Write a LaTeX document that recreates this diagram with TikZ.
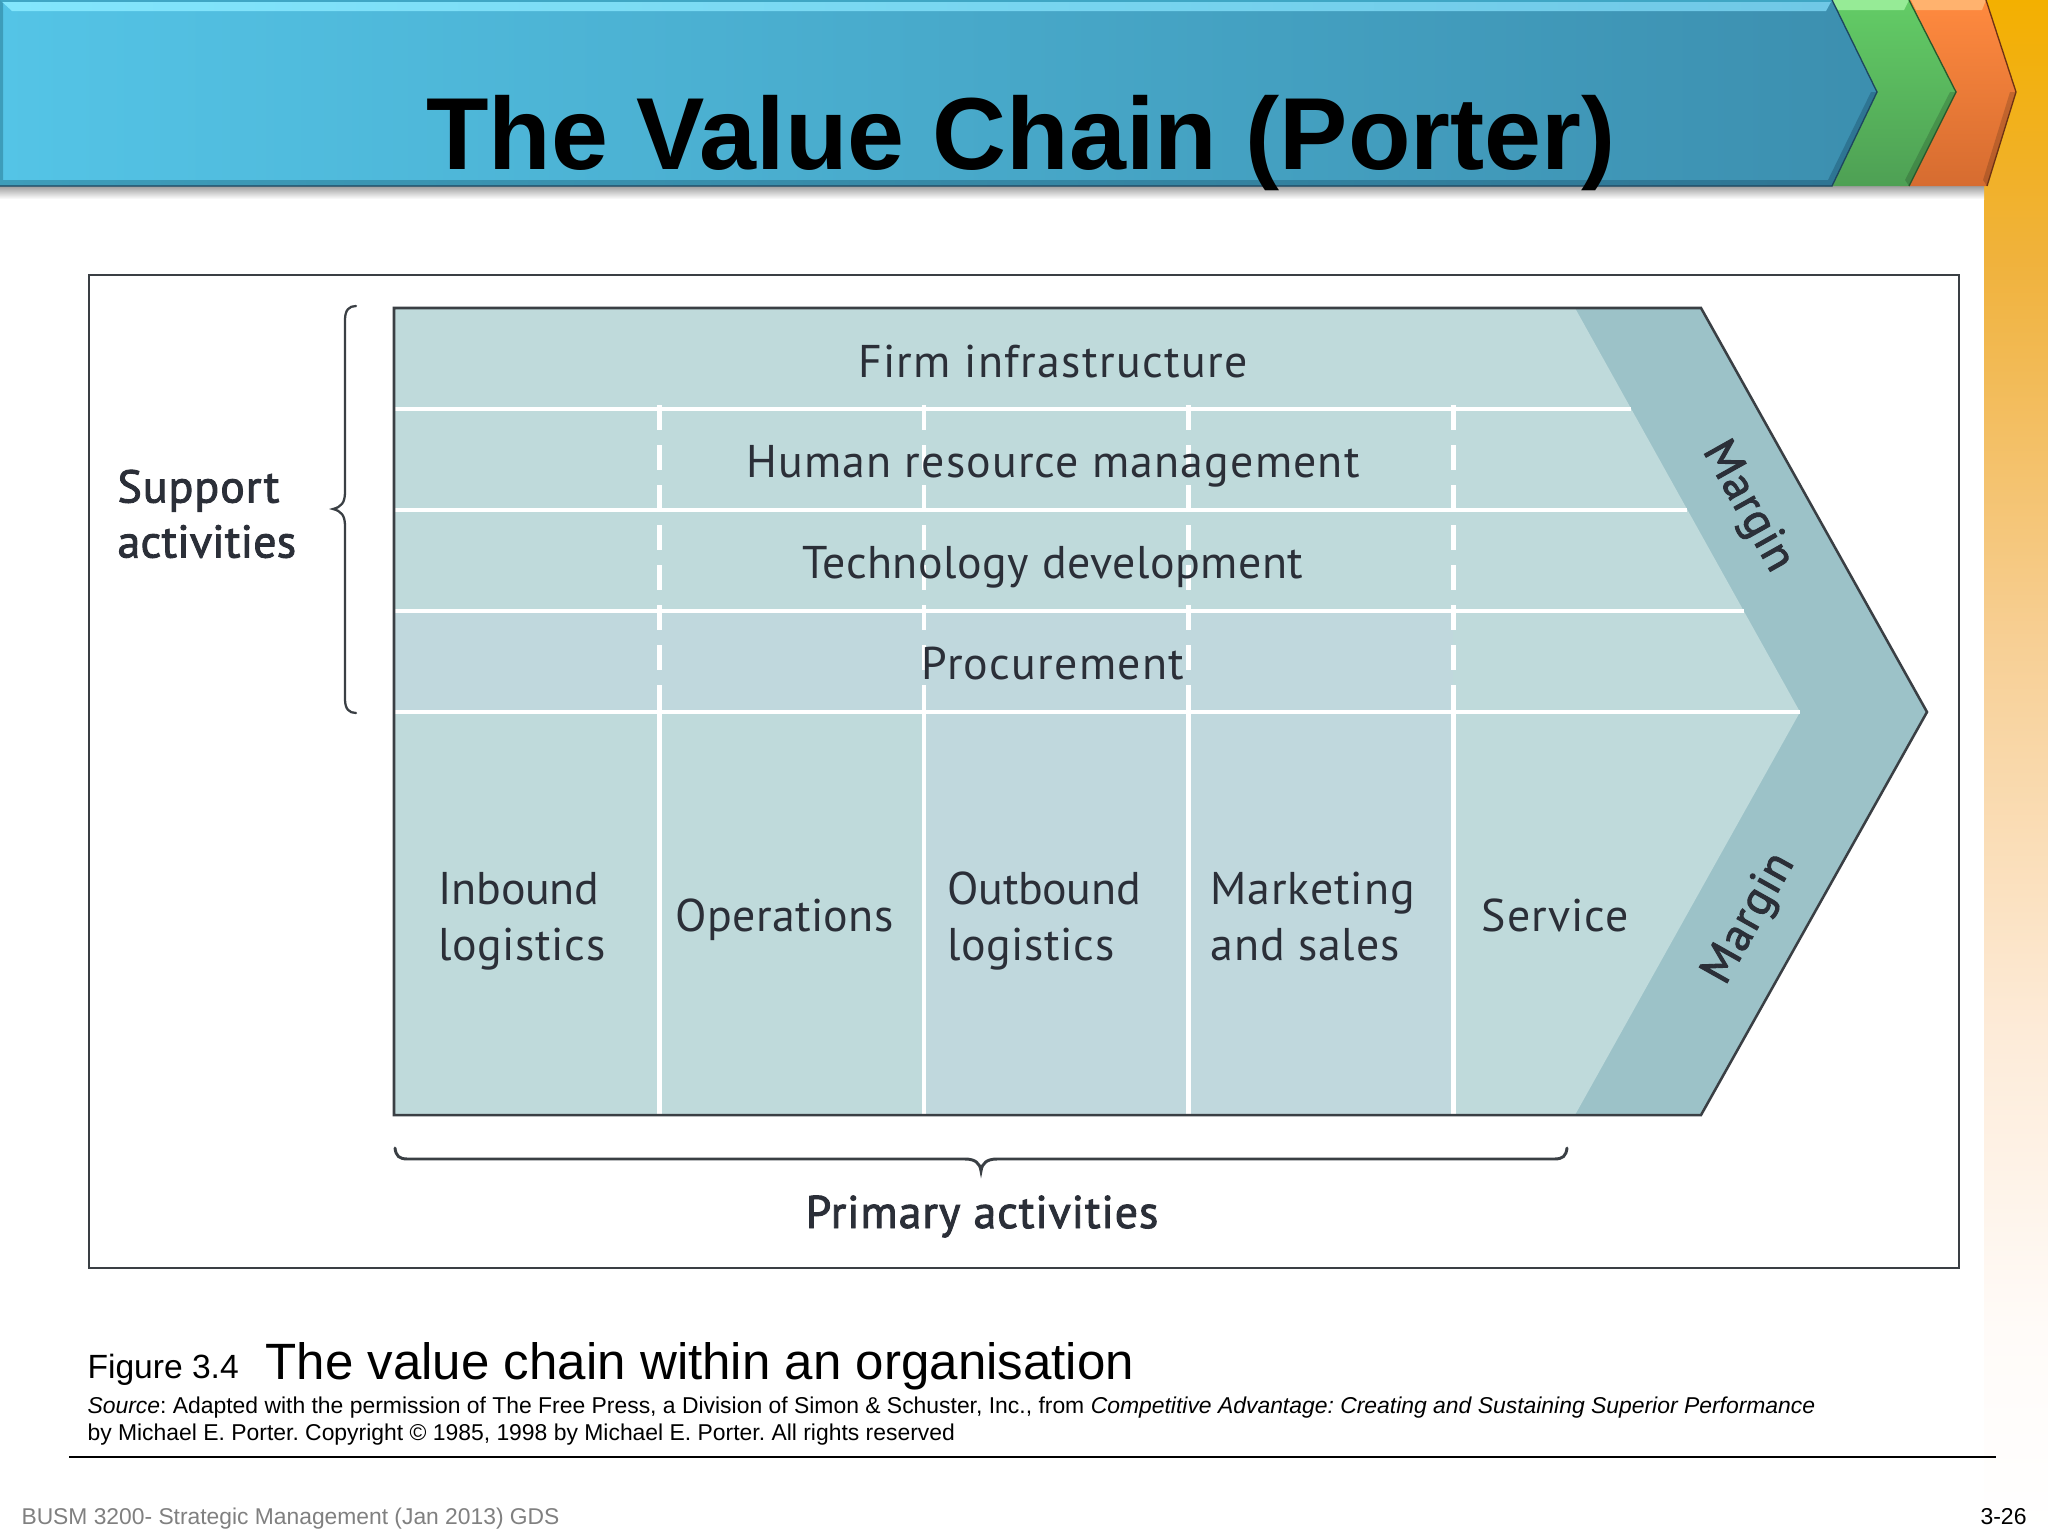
\documentclass[tikz,border=0pt]{standalone}
\usepackage{fontspec}
\setmainfont{Liberation Sans}
\newfontfamily\din[LetterSpace=2.5]{PT Sans}
\newfontfamily\dinb[LetterSpace=2.2,FakeBold=2.0]{PT Sans}
\newcommand{\ls}[1]{\addfontfeature{LetterSpace=#1}}
\usetikzlibrary{calc}
\definecolor{paleA}{HTML}{BFDADB}
\definecolor{paleB}{HTML}{C0D8DD}
\definecolor{marginc}{HTML}{9CC2C8}
\definecolor{inkc}{HTML}{2B2F38}
\definecolor{edgec}{HTML}{3A3F44}
\definecolor{bandA}{HTML}{F3B000}
\definecolor{bandB}{HTML}{F0B23C}
\definecolor{bandC}{HTML}{F7CF94}
\definecolor{bandD}{HTML}{FDEBD8}
\definecolor{bandE}{HTML}{FFFBF8}
\definecolor{orT}{HTML}{FF8A3F}
\definecolor{orB}{HTML}{D66C30}
\definecolor{orH}{HTML}{FFB26E}
\definecolor{orE}{HTML}{6E3214}
\definecolor{grT}{HTML}{63CC66}
\definecolor{grB}{HTML}{4EA054}
\definecolor{grH}{HTML}{96EB96}
\definecolor{grE}{HTML}{285A2D}
\definecolor{blL}{HTML}{54C4E6}
\definecolor{blR}{HTML}{3C8FAF}
\definecolor{blHL}{HTML}{82E6FC}
\definecolor{blHR}{HTML}{70C8E6}
\definecolor{blTE}{HTML}{3FA6C4}
\definecolor{blDL}{HTML}{3D9DBA}
\definecolor{blDR}{HTML}{2E7593}
\definecolor{blE}{HTML}{1E465F}
\definecolor{footc}{HTML}{808080}
\tikzset{
  lab/.style={inner sep=0pt,text=inkc,font=\din\fontsize{17.2}{21}\selectfont},
  labb/.style={inner sep=0pt,text=inkc,font=\dinb\fontsize{17.2}{21}\selectfont},
  whiteline/.style={white,line width=1.85pt},
  whitedash/.style={white,line width=1.7pt,dash pattern=on 9.375pt off 5.625pt},
  capt/.style={inner sep=0pt,anchor=base west,text=black},
  bracec/.style={edgec,line width=0.85pt}
}
\begin{document}
\frenchspacing
\begin{tikzpicture}[x=0.375pt,y=-0.375pt]
\useasboundingbox (0,0) rectangle (2048,1536);
\fill[white] (0,0) rectangle (2048,1536);
% right band
\shade[top color=bandA,bottom color=bandB] (1984,0) rectangle (2048,260);
\shade[top color=bandB,bottom color=bandC] (1984,260) rectangle (2048,640);
\shade[top color=bandC,bottom color=bandD] (1984,640) rectangle (2048,1030);
\shade[top color=bandD,bottom color=bandE] (1984,1030) rectangle (2048,1330);
\shade[top color=bandE,bottom color=white] (1984,1330) rectangle (2048,1536);
% header shadow
\shade[top color=black!38,bottom color=white] (0,186) rectangle (1984,199);
% orange chevron
\shade[top color=orT,bottom color=orB]
  (1900,0) -- (1986,0) -- (2016,92) -- (1987,186) -- (1900,186) -- cycle;
\fill[orH] (1911,0) -- (1986,0) -- (1982,10) -- (1916,10) -- cycle;
\fill[black,opacity=0.16] (2010,92) -- (2016,92) -- (1987,186) -- (1983,180) -- cycle;
\draw[orE,line width=0.5pt] (1986,0) -- (2016,92) -- (1987,186);
% green chevron
\shade[top color=grT,bottom color=grB]
  (1825,0) -- (1909,0) -- (1956,92) -- (1909,186) -- (1825,186) -- cycle;
\fill[grH] (1832,0) -- (1909,0) -- (1904,10) -- (1838,10) -- cycle;
\fill[black,opacity=0.16] (1950,92) -- (1956,92) -- (1909,186) -- (1905,180) -- cycle;
\draw[grE,line width=0.5pt] (1909,0) -- (1956,92) -- (1909,186);
% blue chevron
\shade[left color=blL,right color=blR]
  (0,0) -- (1832,0) -- (1877,92) -- (1832,186) -- (0,186) -- cycle;
\shade[left color=blHL,right color=blHR]
  (0,0) -- (1832,0) -- (1826,11) -- (12,11) -- cycle;
\fill[blTE] (0,0) rectangle (1832,1.5);
\shade[left color=blDL,right color=blDR]
  (0,180) -- (1835,180) -- (1832,186) -- (0,186) -- cycle;
\fill[blDL] (0,0) -- (3,3) -- (3,184) -- (0,186) -- cycle;
\fill[blDR] (1871,92) -- (1877,92) -- (1832,186) -- (1828,180) -- cycle;
\draw[blE,line width=0.5pt] (1832,0) -- (1877,92) -- (1832,186) -- (0,186);
\node[inner sep=0pt,anchor=base,font=\bfseries\fontsize{38.4}{44}\selectfont,text=black] (title) at (1021,169) {The Value Chain (Porter)};
% frame
\draw[edgec,line width=0.75pt] (88.5,275) rectangle (1959,1267.5);
% chain body
\fill[marginc] (394,308) -- (1701,308) -- (1927,712) -- (1701,1115) -- (394,1115) -- cycle;
\fill[paleA] (394,308) -- (1575,308) -- (1800,712) -- (1575,1115) -- (394,1115) -- cycle;
\fill[paleB] (394,611) rectangle (1453,712);
\fill[paleB] (924,712) rectangle (1453,1115);
\foreach \yy/\xx in {409/1631,510/1687,611/1744,712/1800}
  \draw[whiteline] (394,\yy) -- (\xx,\yy);
\foreach \xx in {659.5,924,1188.5,1453.5}{
  \draw[whitedash] (\xx,405) -- (\xx,712);
  \draw[whiteline] (\xx,712) -- (\xx,1115);
}
\draw[edgec,line width=0.95pt,line join=miter] (394,308) -- (1701,308) -- (1927,712) -- (1701,1115) -- (394,1115) -- cycle;
% braces
\draw[bracec,line cap=round] (356,306) .. controls (349,306) and (345,310) .. (345,320) -- (345,492) .. controls (345,503) and (341,507) .. (333,509) .. controls (341,511) and (345,515) .. (345,526) -- (345,699) .. controls (345,709) and (349,713) .. (356,713);
\draw[bracec,line width=1.1pt,line cap=round] (395,1148) .. controls (396,1156) and (399,1159) .. (408,1159) -- (965,1159) .. controls (975,1159) and (980,1163) .. (981,1171) .. controls (982,1163) and (987,1159) .. (997,1159) -- (1554,1159) .. controls (1563,1159) and (1566,1156) .. (1567,1148);
% support rows
\node[lab,anchor=base] (firm) at (1053,377.5) {\ls{3.0}Firm infrastructure};
\node[lab,anchor=base] (hrm) at (1053,477.5) {Human resource management};
\node[lab,anchor=base] (tech) at (1053,578) {\ls{1.2}Technology development};
\node[lab,anchor=base] (proc) at (1053,679) {\ls{2.8}Procurement};
% primary columns
\node[lab,anchor=base west] (inb) at (438,904) {\ls{-0.5}Inbound};
\node[lab,anchor=base west] (inb2) at (438,960) {\ls{1.3}logistics};
\node[lab,anchor=base west] (ops) at (675,931) {\ls{0.8}Operations};
\node[lab,anchor=base west] (out) at (947,904) {\ls{-0.7}Outbound};
\node[lab,anchor=base west] (out2) at (947,960) {\ls{1.3}logistics};
\node[lab,anchor=base west] (mkt) at (1210,904) {\ls{2.0}Marketing};
\node[lab,anchor=base west] (mkt2) at (1210,960) {\ls{2.0}and sales};
\node[lab,anchor=base west] (srv) at (1481,931) {Service};
\node[labb,anchor=base west] (sup) at (117,502.5) {Support};
\node[labb,anchor=base west] (sup2) at (117,557.5) {\ls{0.6}activities};
\node[labb,anchor=base] (prim) at (982,1228) {\ls{2.1}Primary activities};
\node[labb,rotate=-60.7] (m1) at (1747,507) {Margin};
\node[labb,rotate=60.7] (m2) at (1750,919) {Margin};
% caption
\node[capt,font=\fontsize{12.6}{14}\selectfont] (fig) at (87,1378) {Figure 3.4};
\node[capt,font=\fontsize{19.15}{22}\selectfont] (cap) at (265,1379) {The value chain within an organisation};
\node[capt,font=\fontsize{8.59}{10}\selectfont] (src) at (87,1413) {\textit{Source}: Adapted with the permission of The Free Press, a Division of Simon \& Schuster, Inc., from \textit{Competitive Advantage: Creating and Sustaining Superior Performance}};
\node[capt,font=\fontsize{8.59}{10}\selectfont] (src2) at (87,1440.7) {by Michael E. Porter. Copyright © 1985, 1998 by Michael E. Porter. All rights reserved};
\coordinate (ruleL) at (69,1457);
\coordinate (ruleR) at (1996,1457);
\draw[black,line width=0.9pt] (ruleL) -- (ruleR);
\node[capt,text=footc,font=\fontsize{8.56}{10}\selectfont] (foot) at (21,1524) {BUSM 3200- Strategic Management (Jan 2013) GDS};
\node[capt,font=\fontsize{8.62}{10}\selectfont] (page) at (1980,1524) {3-26};
\end{tikzpicture}
\end{document}
